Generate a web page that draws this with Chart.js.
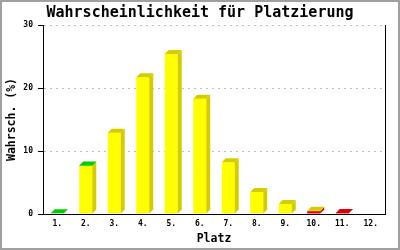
<!DOCTYPE html>
<html>
<head>
<meta charset="utf-8">
<script src="https://cdn.jsdelivr.net/npm/chart.js@4"></script>
<style>
html, body { margin: 0; padding: 0; background: #fff; }
#wrap { width: 400px; height: 250px; }
</style>
</head>
<body>
<div id="wrap"><canvas id="myChart" width="400" height="250"></canvas></div>
<script>
"use strict";

var places = ['1.', '2.', '3.', '4.', '5.', '6.', '7.', '8.', '9.', '10.', '11.', '12.'];
var redPart    = [0, 0, 0, 0, 0, 0, 0, 0, 0, 0.45, 0.15, 0];
var yellowPart = [0, 7.6, 12.9, 21.7, 25.4, 18.3, 8.2, 3.5, 1.6, 0.05, 0, 0];
var greenPart  = [0.1, 0.1, 0, 0, 0, 0, 0, 0, 0, 0, 0, 0];
var yTicks = [0, 10, 20, 30];

var mono = "'DejaVu Sans Mono', 'Liberation Mono', monospace";
var depth = 4;

// side and top faces of the bars, drawn from the bar elements
var bars3d = {
	id: 'bars3d',
	afterDatasetsDraw: function(chart) {
		var ctx = chart.ctx;
		ctx.save();
		for (var i = 0; i < places.length; i++) {
			var top = null;
			chart.data.datasets.forEach(function(ds, k) {
				if (!ds.data[i]) return;
				var bar = chart.getDatasetMeta(k).data[i];
				var r = bar.x + bar.width / 2;
				ctx.fillStyle = ds.sideColor;
				ctx.beginPath();
				ctx.moveTo(r, bar.y);
				ctx.lineTo(r + depth, bar.y - depth);
				ctx.lineTo(r + depth, bar.base - depth);
				ctx.lineTo(r, bar.base);
				ctx.closePath();
				ctx.fill();
				top = { bar: bar, ds: ds };
			});
			if (top) {
				var b = top.bar;
				var l = b.x - b.width / 2, rr = b.x + b.width / 2;
				ctx.fillStyle = top.ds.topColor;
				ctx.beginPath();
				ctx.moveTo(l, b.y);
				ctx.lineTo(l + depth, b.y - depth);
				ctx.lineTo(rr + depth, b.y - depth);
				ctx.lineTo(rr, b.y);
				ctx.closePath();
				ctx.fill();
			}
		}
		// right frame line of the plot
		var a = chart.chartArea;
		ctx.strokeStyle = '#000';
		ctx.lineWidth = 1;
		ctx.beginPath();
		ctx.moveTo(Math.round(a.right) + 0.5, a.top);
		ctx.lineTo(Math.round(a.right) + 0.5, a.bottom);
		ctx.stroke();
		ctx.restore();
	},
	afterDraw: function(chart) {
		var ctx = chart.ctx;
		ctx.save();
		ctx.strokeStyle = '#a0a0a0';
		ctx.lineWidth = 2;
		ctx.strokeRect(1, 1, chart.width - 2, chart.height - 2);
		ctx.restore();
	}
};

var ctx = document.getElementById('myChart').getContext('2d');

var myChart = new Chart(ctx, {
	type: 'bar',
	data: {
		labels: places,
		datasets: [
			{ label: 'red', data: redPart, backgroundColor: '#ee0000', sideColor: '#b00000', topColor: '#dd0000' },
			{ label: 'yellow', data: yellowPart, backgroundColor: '#ffff00', sideColor: '#d4cc00', topColor: '#d4cc00' },
			{ label: 'green', data: greenPart, backgroundColor: '#00cc00', sideColor: '#00a000', topColor: '#00cc00' }
		]
	},
	options: {
		responsive: false,
		animation: false,
		layout: { padding: 0 },
		datasets: { bar: { barThickness: 13, inflateAmount: 0, borderWidth: 0 } },
		plugins: {
			legend: { display: false },
			tooltip: { enabled: false },
			title: {
				display: true,
				text: 'Wahrscheinlichkeit für Platzierung',
				color: '#000',
				font: { family: mono, size: 15, weight: 'bold' },
				padding: { top: 4, bottom: 3 }
			}
		},
		scales: {
			x: {
				stacked: true,
				grid: { display: false, drawTicks: false },
				border: { display: true, color: '#000', width: 1 },
				ticks: { color: '#000', font: { family: mono, size: 8, weight: 'bold' }, padding: 5, maxRotation: 0, autoSkip: false },
				title: { display: true, text: 'Platz', color: '#000', font: { family: mono, size: 11.5, weight: 'bold' }, padding: { top: 0, bottom: 4 } },
				afterFit: function(s) { s.height = 36; }
			},
			y: {
				stacked: true,
				min: 0,
				max: 30,
				afterBuildTicks: function(s) { s.ticks = yTicks.map(function(v) { return { value: v }; }); },
				grid: { color: '#c0c0c0', tickColor: '#000', tickLength: 5, tickBorderDash: [] },
				border: { display: true, color: '#000', width: 1, dash: [2, 4] },
				ticks: { color: '#000', font: { family: mono, size: 8, weight: 'bold' }, padding: 5 },
				title: { display: true, text: 'Wahrsch. (%)', color: '#000', font: { family: mono, size: 11.5, weight: 'bold' }, padding: { top: 5, bottom: 0 } },
				afterFit: function(s) { s.width = 43; }
			},
			pad: {
				position: 'right',
				display: true,
				grid: { display: false, drawTicks: false },
				border: { display: false },
				ticks: { display: false },
				afterFit: function(s) { s.width = 15; }
			}
		}
	},
	plugins: [bars3d]
});
</script>
</body>
</html>
